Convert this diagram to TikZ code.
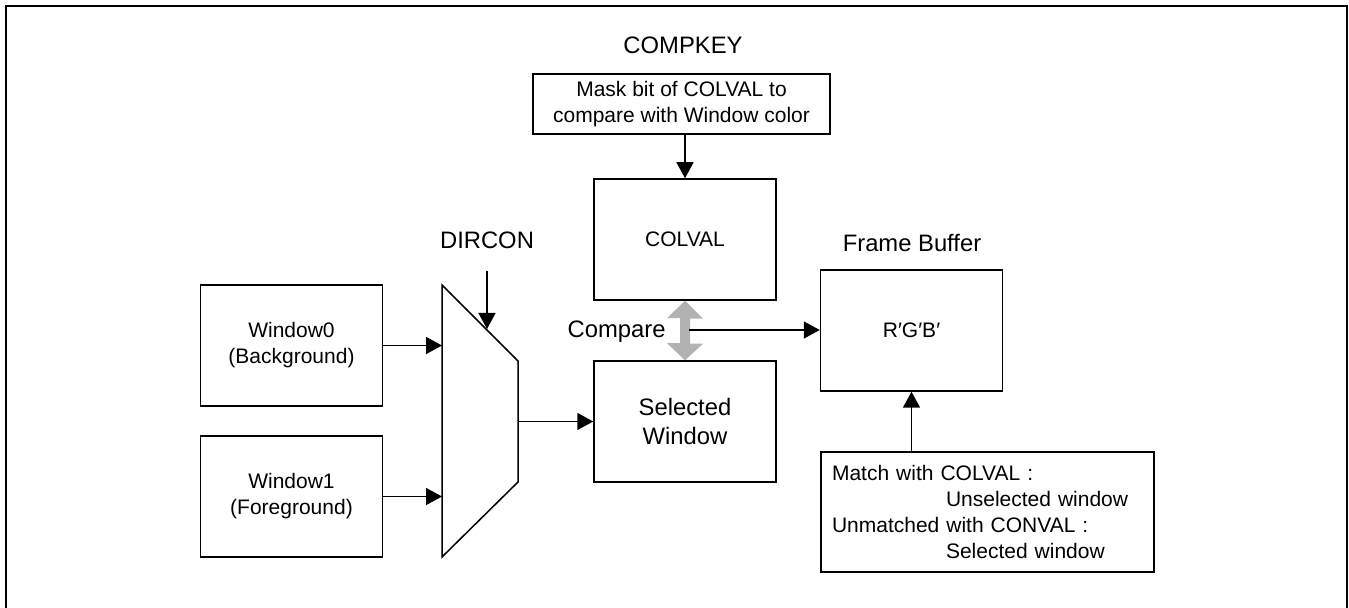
\documentclass[tikz,border=0pt]{standalone}
\usepackage{fontspec}
\setmainfont{Liberation Sans}
\usetikzlibrary{arrows.meta}
\definecolor{cmpgray}{RGB}{178,178,178}
\begin{document}
\begin{tikzpicture}[x=0.5pt,y=-0.5pt,
  txt/.style={font=\fontsize{10.5}{13}\selectfont},
  bigtxt/.style={font=\fontsize{11.9}{14.5}\selectfont},
  box/.style 2 args={draw, line width=0.75pt, minimum width=#1, minimum height=#2, inner sep=0pt, align=center, txt},
  lbl/.style={bigtxt, inner sep=0pt},
  arr/.style={-{Triangle[length=8pt,width=8.5pt]}, line width=0.75pt}
]
\useasboundingbox (0,0) rectangle (1349,608);
% outer frame
\draw[line width=1pt] (6,612) -- (6,6) -- (1347,6) -- (1347,612);

% labels
\node[lbl] (compkey) at (683,45) {COMPKEY};
\node[lbl] (fblbl) at (912,243) {Frame Buffer};
\node[lbl] (dircon) at (487,240) {DIRCON};
\node[lbl, anchor=east] (cmp) at (666,332) {Compare};

% boxes
\node[box={148.5pt}{30pt}] (mask) at (681.5,104) {Mask bit of COLVAL to\\compare with Window color};
\node[box={91pt}{60.5pt}] (colval) at (685,239.5) {COLVAL};
\node[box={91pt}{60.5pt}, bigtxt] (sel) at (685,421.5) {Selected\\Window};
\node[box={91pt}{60.5pt}] (fb) at (911.5,330.5) {R′G′B′};
\node[box={91pt}{60.5pt}] (w0) at (291.5,345.5) {Window0\\(Background)};
\node[box={91pt}{60.5pt}] (w1) at (291.5,496.5) {Window1\\(Foreground)};
\node[draw, line width=0.75pt, txt, minimum height=60pt, text width=155.5pt, inner xsep=5.5pt, inner ysep=0pt, align=left] (note) at (987.5,512)
  {Match with COLVAL :\\\hspace*{57pt}Unselected window\\Unmatched with CONVAL :\\\hspace*{57pt}Selected window};

% multiplexer
\coordinate (muxA) at (442,285);
\coordinate (muxB) at (518,361);
\coordinate (muxC) at (518,482);
\coordinate (muxD) at (442,557);
\draw[line width=0.75pt, line join=miter] (muxA) -- (muxB) -- (muxC) -- (muxD) -- cycle;

% compare double arrow
\fill[cmpgray] (colval.south) -- ++(18,18) -- ++(-13,0) -- ++(0,25) -- ++(13,0) -- (sel.north)
  -- ++(-18,-17) -- ++(13,0) -- ++(0,-25) -- ++(-13,0) -- cycle;

% connectors
\coordinate (dtip) at (487,329);
\coordinate (cmpR) at (689,330);
\draw[arr] (colval.north |- mask.south) -- (colval.north);
\draw[arr] ([yshift=-11pt]dircon.south) -- (dtip);
\draw[arr] (w0.east) -- (w0.east -| muxA);
\draw[arr] (w1.east) -- (w1.east -| muxA);
\draw[arr] (muxB |- sel.west) -- (sel.west);
\draw[arr] (cmpR) -- (cmpR -| fb.west);
\draw[arr] (note.north -| fb.south) -- (fb.south);
\end{tikzpicture}
\end{document}
